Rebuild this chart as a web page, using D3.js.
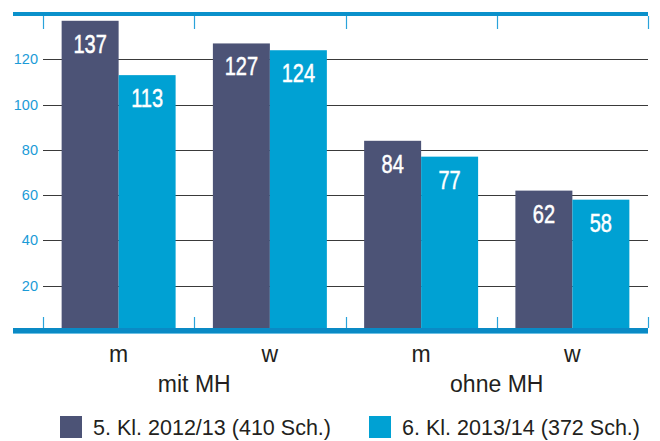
<!DOCTYPE html>
<html>
<head>
<meta charset="utf-8">
<style>
  body { margin: 0; background: #fff; }
  svg { display: block; }
</style>
</head>
<body>
<div id="chart"></div>
<script src="https://d3js.org/d3.v7.min.js"></script>
<script>
  // Daten
  const categories = ['m', 'w', 'm', 'w'];
  const groups = ['mit MH', 'ohne MH'];
  const series = ['5. Kl. 2012/13 (410 Sch.)', '6. Kl. 2013/14 (372 Sch.)'];
  const values5 = [137, 127, 84, 62];
  const values6 = [113, 124, 77, 58];
  const yTicks = [20, 40, 60, 80, 100, 120];

  const colors = ['#4c5376', '#00a1d3'];
  const W = 660, H = 441;

  const svg = d3.select('#chart')
                .append('svg')
                .attr('width', W)
                .attr('height', H);

  const x = d3.scaleBand()
              .domain(d3.range(categories.length))
              .range([43, 648])
              .padding(0);

  const xs = d3.scaleBand()
               .domain(d3.range(series.length))
               .range([0, x.bandwidth()])
               .paddingInner(0)
               .paddingOuter(0.327);

  const y = d3.scaleLinear()
              .domain([0, 140])
              .range([331, 14]);

  // Gitterlinien
  svg.append('g')
     .selectAll('line')
     .data(yTicks)
     .enter()
     .append('line')
     .attr('x1', 43)
     .attr('x2', 648)
     .attr('y1', d => Math.round(y(d)) + 0.5)
     .attr('y2', d => Math.round(y(d)) + 0.5)
     .attr('stroke', '#3a3a3a')
     .attr('stroke-width', 1.2);

  // y-Achse Beschriftung
  svg.append('g')
     .selectAll('text')
     .data(yTicks)
     .enter()
     .append('text')
     .attr('x', 38)
     .attr('y', d => y(d) + 5)
     .attr('text-anchor', 'end')
     .style('font-family', 'Liberation Sans, Arial, sans-serif')
     .style('font-size', '14.5px')
     .attr('fill', '#1b9bd7')
     .text(d => d);

  // Balken
  const rows = categories.map((c, i) => [values5[i], values6[i]]);
  const bars = [];
  rows.forEach((r, i) => r.forEach((v, j) => bars.push({ i, j, v })));

  svg.append('g')
     .selectAll('rect')
     .data(bars)
     .enter()
     .append('rect')
     .attr('x', d => x(d.i) + xs(d.j))
     .attr('width', xs.bandwidth())
     .attr('y', d => y(d.v))
     .attr('height', d => y(0) - y(d.v))
     .attr('fill', d => colors[d.j]);

  // Werte in den Balken (schmal gestaucht)
  svg.append('g')
     .selectAll('text')
     .data(bars)
     .enter()
     .append('text')
     .attr('transform', d => `translate(${x(d.i) + xs(d.j) + xs.bandwidth() / 2},${y(d.v) + 32}) scale(0.8,1)`)
     .attr('text-anchor', 'middle')
     .style('font-family', 'Liberation Sans, Arial, sans-serif')
     .style('font-size', '25px')
     .attr('fill', '#fff')
     .attr('stroke', '#fff')
     .attr('stroke-width', 0.5)
     .text(d => d.v);

  // Achsenbalken oben und unten
  svg.append('rect')
     .attr('x', 13).attr('y', 12)
     .attr('width', 635).attr('height', 4)
     .attr('fill', '#0a91cb');
  svg.append('rect')
     .attr('x', 13).attr('y', 328)
     .attr('width', 635).attr('height', 5)
     .attr('fill', '#0a8ac5');
  svg.append('rect')
     .attr('x', 13).attr('y', 333)
     .attr('width', 635).attr('height', 1)
     .attr('fill', '#6cc0e4');

  // Striche
  const edges = d3.range(categories.length + 1).map(k => k < categories.length ? x(k) : x.range()[1]);
  svg.append('g')
     .selectAll('line')
     .data(edges)
     .enter()
     .append('line')
     .attr('x1', d => Math.round(d) + 0.5)
     .attr('x2', d => Math.round(d) + 0.5)
     .attr('y1', 16)
     .attr('y2', 29)
     .attr('stroke', '#2aa3da')
     .attr('stroke-width', 1.2);
  svg.append('g')
     .selectAll('line')
     .data(edges)
     .enter()
     .append('line')
     .attr('x1', d => Math.round(d) + 0.5)
     .attr('x2', d => Math.round(d) + 0.5)
     .attr('y1', 317)
     .attr('y2', 328)
     .attr('stroke', '#2aa3da')
     .attr('stroke-width', 1.2);

  // Kategorien
  svg.append('g')
     .selectAll('text')
     .data(categories)
     .enter()
     .append('text')
     .attr('x', (d, i) => x(i) + x.bandwidth() / 2)
     .attr('y', 362)
     .attr('text-anchor', 'middle')
     .style('font-family', 'Liberation Sans, Arial, sans-serif')
     .style('font-size', '23px')
     .attr('fill', '#231f20')
     .text(d => d);

  svg.append('g')
     .selectAll('text')
     .data(groups)
     .enter()
     .append('text')
     .attr('x', (d, i) => x(i * 2 + 1))
     .attr('y', 392)
     .attr('text-anchor', 'middle')
     .style('font-family', 'Liberation Sans, Arial, sans-serif')
     .style('font-size', '23px')
     .attr('fill', '#231f20')
     .text(d => d);

  // Legende
  const legendX = [60, 369];
  const legend = svg.append('g')
                    .selectAll('g')
                    .data(series)
                    .enter()
                    .append('g')
                    .attr('transform', (d, i) => `translate(${legendX[i]},416)`);
  legend.append('rect')
        .attr('width', 22)
        .attr('height', 22)
        .attr('fill', (d, i) => colors[i]);
  legend.append('text')
        .attr('x', 33)
        .attr('y', 19)
        .attr('textLength', 238)
        .attr('lengthAdjust', 'spacingAndGlyphs')
        .style('font-family', 'Liberation Sans, Arial, sans-serif')
        .style('font-size', '22px')
        .attr('fill', '#231f20')
        .text(d => d);
</script>
</body>
</html>
